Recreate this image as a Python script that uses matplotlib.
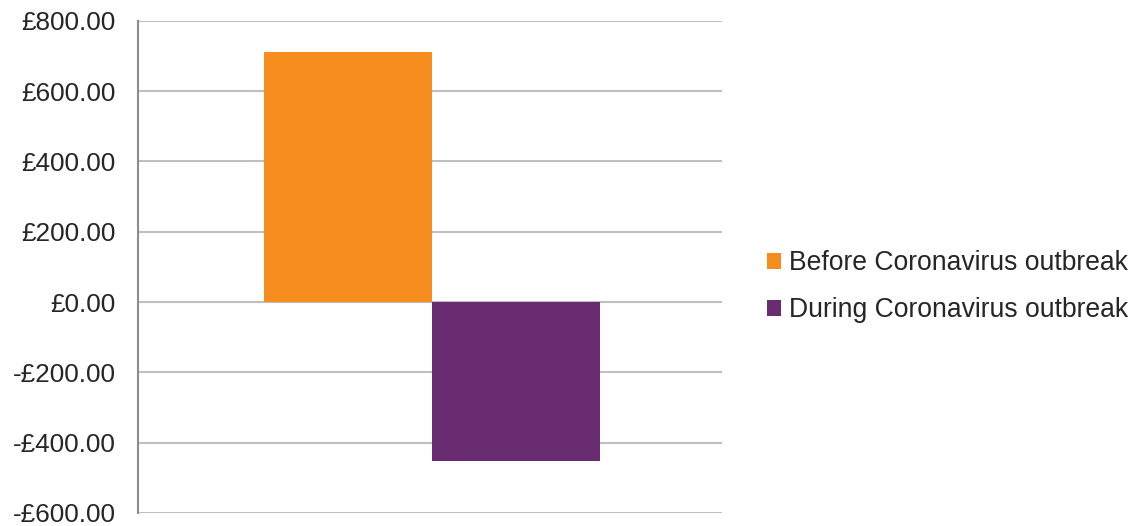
import numpy as np
import matplotlib.pyplot as plt
from matplotlib.ticker import FuncFormatter

plt.rcParams['font.family'] = ['Liberation Sans', 'DejaVu Sans']

series = ['Before Coronavirus outbreak', 'During Coronavirus outbreak']
values = [711.0, -451.0]
colors = ['#F78D1F', '#6A2C70']
offsets = [-0.1405, 0.1475]

fig = plt.figure(figsize=(11.36, 5.26), dpi=100)
ax = fig.add_axes([138 / 1136, 1 - 513 / 526, 584 / 1136, (513 - 20.8) / 526])

for name, val, col, off in zip(series, values, colors, offsets):
    ax.bar(off, val, width=0.288, color=col, label=name, zorder=3)

ax.set_xlim(-0.5, 0.5)
ax.set_ylim(-600, 800)
ax.set_yticks(np.arange(-600, 801, 200))
ax.set_xticks([])

def money(v, pos):
    return f'£{v:,.2f}' if v >= 0 else f'-£{abs(v):,.2f}'

ax.yaxis.set_major_formatter(FuncFormatter(money))
ax.tick_params(axis='y', length=0, pad=16, labelsize=18.8, labelcolor='#262626')
ax.grid(axis='y', color='#BFBFBF', linewidth=1.5, zorder=0)

for s in ['top', 'right']:
    ax.spines[s].set_visible(False)
ax.spines['bottom'].set_visible(False)
ax.spines['left'].set_color('#8C8C8C')
ax.spines['left'].set_linewidth(1.5)

ax.legend(loc='center left', bbox_to_anchor=(1.036, 0.46), frameon=False,
          fontsize=19.1, handlelength=0.55, handleheight=0.55,
          handletextpad=0.3, labelspacing=0.8, labelcolor='#262626')

fig.savefig('out.png', dpi=100)
